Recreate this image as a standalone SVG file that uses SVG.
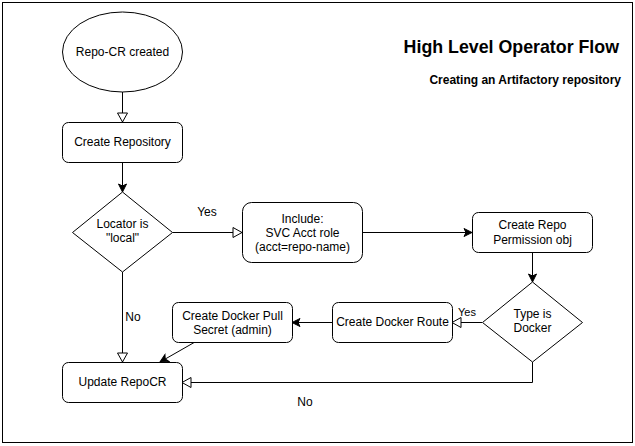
<svg xmlns="http://www.w3.org/2000/svg" width="635" height="446" viewBox="0 0 635 446">
<style>
  .n { fill: #fff; stroke: #000; stroke-width: 1; }
  .e { fill: none; stroke: #000; stroke-width: 1; }
  text { font-family: "Liberation Sans", Arial, Helvetica, sans-serif; font-size: 12px; fill: #000; text-anchor: middle; }
  .lbl { font-size: 11px; }
  .title { font-size: 17.8px; font-weight: bold; text-anchor: end; }
  .sub { font-size: 12px; font-weight: bold; text-anchor: end; }
</style>
<defs>
  <marker id="open" markerUnits="userSpaceOnUse" markerWidth="12" markerHeight="12" viewBox="0 0 12 12" refX="11" refY="6" orient="auto">
    <path d="M2,1 L11,6 L2,11 Z" fill="#fff" stroke="#000" stroke-width="1"/>
  </marker>
  <marker id="fill" markerUnits="userSpaceOnUse" markerWidth="10" markerHeight="10" viewBox="0 0 10 10" refX="9" refY="5" orient="auto">
    <path d="M1,1 L9,5 L1,9 L3,5 Z" fill="#000" stroke="#000" stroke-width="1"/>
  </marker>
</defs>
<rect x="2.5" y="2.5" width="630" height="440" fill="#fff" stroke="#000" stroke-width="1"/>

<g id="title">
  <text class="title" x="619" y="53">High Level Operator Flow</text>
  <text class="sub" x="621" y="84">Creating an Artifactory repository</text>
</g>

<g id="connectors">
  <path class="e" d="M122.5,92 L122.5,122" marker-end="url(#open)"/>
  <path class="e" d="M122.5,162 L122.5,192" marker-end="url(#fill)"/>
  <path class="e" d="M172.5,232.5 L242,232.5" marker-end="url(#open)"/>
  <path class="e" d="M362,232.5 L472,232.5" marker-end="url(#fill)"/>
  <path class="e" d="M532.5,252 L532.5,282" marker-end="url(#fill)"/>
  <path class="e" d="M482,322.5 L452,322.5" marker-end="url(#open)"/>
  <path class="e" d="M332,322.5 L292,322.5" marker-end="url(#fill)"/>
  <path class="e" d="M195,342 L160,362" marker-end="url(#fill)"/>
  <path class="e" d="M122.5,272 L122.5,362" marker-end="url(#open)"/>
  <path class="e" d="M532.5,362 L532.5,382.5 L182,382.5" marker-end="url(#open)"/>
  <text x="207" y="216">Yes</text>
  <text class="lbl" x="467" y="316">Yes</text>
  <text x="133" y="321">No</text>
  <text x="305" y="406">No</text>
</g>

<g id="start">
  <ellipse class="n" cx="122.5" cy="52" rx="60" ry="40"/>
  <text x="122.5" y="56">Repo-CR created</text>
</g>
<g id="create-repository">
  <rect class="n" x="62.5" y="122.5" width="120" height="40" rx="6"/>
  <text x="122.5" y="146">Create Repository</text>
</g>
<g id="locator-local">
  <path class="n" d="M122.5,192 L172.5,232.5 L122.5,272 L72.5,232.5 Z"/>
  <text x="122.5" y="228">Locator is</text>
  <text x="122.5" y="242">"local"</text>
</g>
<g id="include">
  <rect class="n" x="242.5" y="202.5" width="120" height="60" rx="9"/>
  <text x="302.5" y="223">Include:</text>
  <text x="302.5" y="237">SVC Acct role</text>
  <text x="302.5" y="251">(acct=repo-name)</text>
</g>
<g id="create-repo-permission">
  <rect class="n" x="472.5" y="212.5" width="120" height="40" rx="6"/>
  <text x="532.5" y="229">Create Repo</text>
  <text x="532.5" y="244">Permission obj</text>
</g>
<g id="type-docker">
  <path class="n" d="M532.5,282 L582.5,322.5 L532.5,362 L482.5,322.5 Z"/>
  <text x="532.5" y="318">Type is</text>
  <text x="532.5" y="332">Docker</text>
</g>
<g id="create-docker-route">
  <rect class="n" x="332.5" y="302.5" width="120" height="40" rx="6"/>
  <text x="392.5" y="326">Create Docker Route</text>
</g>
<g id="create-docker-pull-secret">
  <rect class="n" x="172.5" y="302.5" width="120" height="40" rx="6"/>
  <text x="232.5" y="320">Create Docker Pull</text>
  <text x="232.5" y="334">Secret (admin)</text>
</g>
<g id="update-repocr">
  <rect class="n" x="62.5" y="362.5" width="120" height="40" rx="6"/>
  <text x="122.5" y="386">Update RepoCR</text>
</g>
</svg>
